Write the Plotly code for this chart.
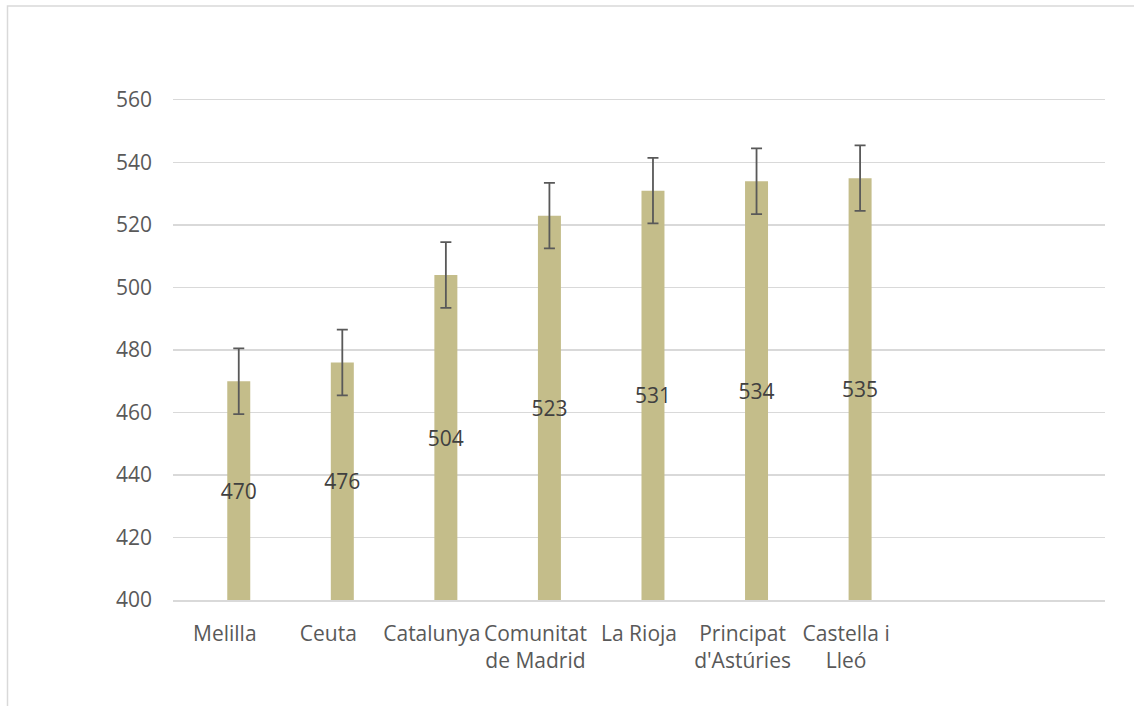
import plotly.graph_objects as go

categories = ["Melilla", "Ceuta", "Catalunya", "Comunitat<br>de Madrid", "La Rioja",
              "Principat<br>d'Astúries", "Castella i<br>Lleó"]
empty_slots = [" ", "  "]
scores = [470, 476, 504, 523, 531, 534, 535]
errors = [10.5, 10.5, 10.5, 10.5, 10.5, 10.5, 10.5]
y_ticks = [400, 420, 440, 460, 480, 500, 520, 540, 560]

FONT = "Open Sans"

fig = go.Figure()
fig.add_trace(go.Bar(
    x=categories,
    y=[s - 400 for s in scores],
    base=400,
    width=0.222,
    offset=0.024,
    marker=dict(color="#C4BD8A", line=dict(width=0)),
    error_y=dict(type="data", array=errors, visible=True, color="#595959",
                 thickness=1.8, width=5.5),
    text=[str(s) for s in scores],
    textposition="inside",
    insidetextanchor="middle",
    textangle=0,
    constraintext="none",
    textfont=dict(family=FONT, size=21, color="#404040"),
    hoverinfo="skip",
))

fig.update_layout(
    width=1134, height=706,
    margin=dict(l=173, r=29, t=100, b=106),
    paper_bgcolor="white", plot_bgcolor="white",
    showlegend=False,
    font=dict(family=FONT, size=21, color="#595959"),
    xaxis=dict(type="category", categoryorder="array",
               categoryarray=categories + empty_slots,
               range=[-0.5, 8.5], showgrid=False, zeroline=False,
               showline=True, mirror=True, linecolor="#D9D9D9", linewidth=1.5,
               ticks="", ticklabelstandoff=14,
               tickfont=dict(family=FONT, size=21, color="#595959")),
    yaxis=dict(range=[400, 560], tickvals=y_ticks, showgrid=True,
               gridcolor="#D9D9D9", gridwidth=1.5, zeroline=False,
               showline=False, ticks="", ticklabelstandoff=20,
               tickfont=dict(family=FONT, size=21, color="#595959")),
    shapes=[dict(type="rect", xref="paper", yref="paper",
                 x0=(7.5 - 173) / 932, x1=(1145 - 173) / 932,
                 y0=(600 - 720) / 500, y1=(600 - 6) / 500,
                 line=dict(color="#D9D9D9", width=1.5), fillcolor="rgba(0,0,0,0)",
                 layer="below")],
)

html = fig.to_html(full_html=True, include_plotlyjs=True,
                   config={"displayModeBar": False, "staticPlot": True})
html = html.replace("<head>", "<head><style>html,body{margin:0;padding:0;overflow:hidden;}</style>", 1)
with open("out.html", "w", encoding="utf-8") as f:
    f.write(html)
